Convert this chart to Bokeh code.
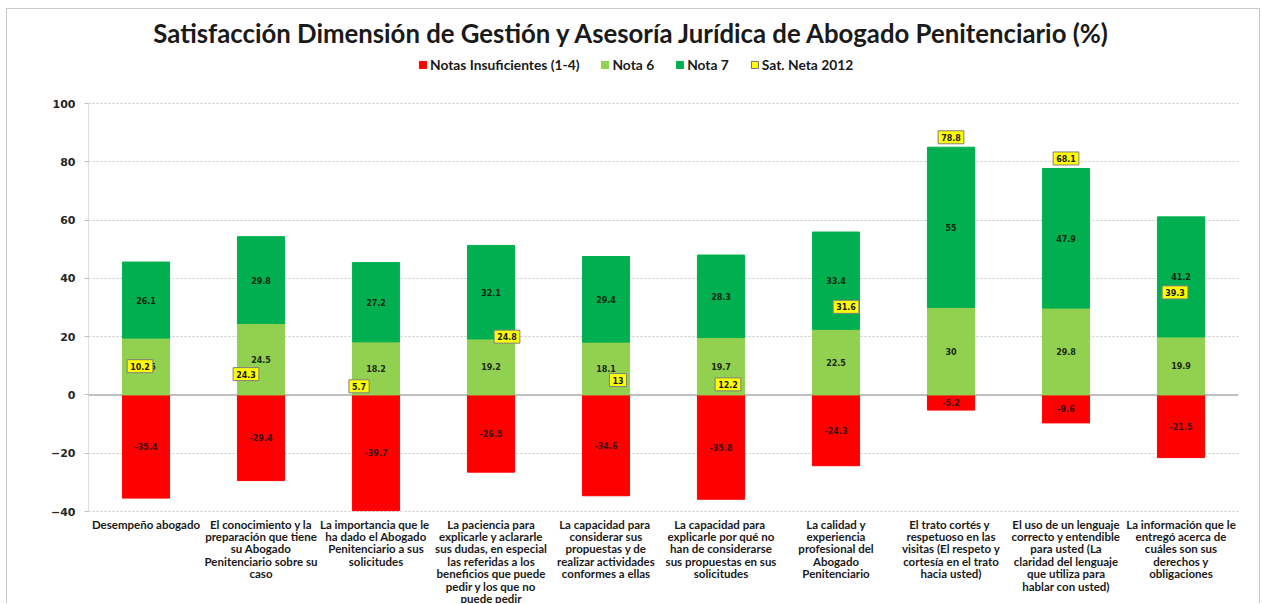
from bokeh.plotting import figure
from bokeh.models import (ColumnDataSource, FactorRange, Range1d, Legend, LegendItem,
                          Label, Span, FixedTicker)
from bokeh.core.properties import value
from bokeh.embed import file_html
from bokeh.resources import INLINE

# ---------------- data ----------------
categories = [
    "Desempeño abogado",
    "El conocimiento y la\npreparación que tiene\nsu Abogado\nPenitenciario sobre su\ncaso",
    "La importancia  que le\nha dado el Abogado\nPenitenciario a sus\nsolicitudes",
    "La paciencia para\nexplicarle y aclararle\nsus dudas, en especial\nlas referidas a los\nbeneficios que puede\npedir y los que no\npuede pedir",
    "La capacidad  para\nconsiderar sus\npropuestas y de\nrealizar actividades\nconformes a ellas",
    "La capacidad  para\nexplicarle por qué no\nhan de considerarse\nsus propuestas en sus\nsolicitudes",
    "La calidad y\nexperiencia\nprofesional del\nAbogado\nPenitenciario",
    "El trato  cortés y\nrespetuoso en las\nvisitas (El respeto y\ncortesía en el trato\nhacia usted)",
    "El uso de un lenguaje\ncorrecto y entendible\npara usted (La\nclaridad del lenguaje\nque utiliza para\nhablar con usted)",
    "La información que le\nentregó acerca de\ncuáles son sus\nderechos y\nobligaciones",
]
notas_insuficientes = [-35.4, -29.4, -39.7, -26.5, -34.6, -35.8, -24.3, -5.2, -9.6, -21.5]
nota6 = [19.5, 24.5, 18.2, 19.2, 18.1, 19.7, 22.5, 30, 29.8, 19.9]
nota7 = [26.1, 29.8, 27.2, 32.1, 29.4, 28.3, 33.4, 55, 47.9, 41.2]
sat_neta_2012 = [10.2, 24.3, 5.7, 24.8, 13, 12.2, 31.6, 78.8, 68.1, 39.3]
y_ticks = [-40, -20, 0, 20, 40, 60, 80, 100]

TITLE = "Satisfacción Dimensión de Gestión y Asesoría Jurídica de Abogado Penitenciario (%)"

# label placement offsets (screen px) for the Sat. Neta boxes
sat_dx = [-6, -15, -17, 16, 12, 7, 10, 0, 0, -6]
sat_dy = [1, 50, 8, 14, 23, 25, 4, -28, -38, 12]

RED = "#FF0000"
LGREEN = "#92D050"
GREEN = "#00B050"
YELLOW = "#FFFF00"
GRID = "#C8C8C8"

Y_MIN, Y_MAX = min(y_ticks), max(y_ticks)

# ---------------- layout (pixels) ----------------
FIG_W, FIG_H = 1262, 603
LEFT = 88            # frame left edge
FRAME_R = 1238       # frame right edge
RIGHT = FIG_W - FRAME_R
TOP_PX = 103         # pixel row of the top tick inside the frame
AXIS_PX = 408        # pixel height of the tick span
PPU = AXIS_PX / (Y_MAX - Y_MIN)
y_end = Y_MAX + TOP_PX / PPU
y_start = Y_MAX - (FIG_H - TOP_PX) / PPU
CAT_PX = (FRAME_R - LEFT) / len(categories)


def y_at_px(py):
    return y_end - py / PPU


def x_at_px(px):
    return (px - LEFT) / CAT_PX


def fmt(v):
    return f"{v:g}"


src = ColumnDataSource(dict(
    cat=categories,
    ins=notas_insuficientes,
    zero=[0] * len(categories),
    n6=nota6,
    top7=[a + b for a, b in zip(nota6, nota7)],
    mid_ins=[v / 2 for v in notas_insuficientes],
    mid6=[v / 2 for v in nota6],
    mid7=[a + b / 2 for a, b in zip(nota6, nota7)],
    lab_ins=[fmt(v) for v in notas_insuficientes],
    lab6=[fmt(v) for v in nota6],
    lab7=[fmt(v) for v in nota7],
    sat=sat_neta_2012,
    lab_sat=[fmt(v) for v in sat_neta_2012],
    sat_dx=sat_dx,
    sat_dy=sat_dy,
    base=[Y_MIN] * len(categories),
))

p = figure(
    x_range=FactorRange(*categories, range_padding=0),
    y_range=Range1d(y_start, y_end),
    width=FIG_W, height=FIG_H,
    min_border_left=LEFT, min_border_right=RIGHT, min_border_top=0, min_border_bottom=0,
    output_backend="svg", toolbar_location=None,
)
p.outline_line_color = None
p.background_fill_alpha = 0
p.border_fill_alpha = 0
# thin grey chart-area border (as in the exported Excel picture)
line = f"linear-gradient({GRID},{GRID})"
p.styles = {
    "background": (f"{line} 6px 8px / 1px 700px no-repeat, "
                   f"{line} 6px 8px / 1254px 1px no-repeat, "
                   f"{line} 1259px 8px / 1px 700px no-repeat, white"),
}

W = 0.41
p.add_layout(Span(location=0, dimension="width", line_color="#C0C0C0", line_width=2,
                  level="underlay"))
r_ins = p.vbar(x="cat", top="zero", bottom="ins", width=W, source=src,
               fill_color=RED, line_color=RED)
r_n6 = p.vbar(x="cat", top="n6", bottom="zero", width=W, source=src,
              fill_color=LGREEN, line_color=LGREEN)
r_n7 = p.vbar(x="cat", top="top7", bottom="n6", width=W, source=src,
              fill_color=GREEN, line_color=GREEN)
# legend proxy for the Sat. Neta series (zero-size boxes at the values)
r_sat = p.vbar(x="cat", top="sat", bottom="sat", width=0, source=src,
               fill_color=YELLOW, line_color="#6F6F6F")

# y-axis line only over the tick span
p.segment(x0=[0], y0=[Y_MIN], x1=[0], y1=[Y_MAX], line_color="#BFBFBF", line_width=1)

lab_kw = dict(source=src, text_align="center", text_baseline="middle",
              text_font=value("DejaVu Sans"), text_font_style="bold",
              text_font_size="8px")
p.text(x="cat", y="mid_ins", text="lab_ins", text_color="#3A1010", **lab_kw)
p.text(x="cat", y="mid6", text="lab6", text_color="#1A2A10", **lab_kw)
p.text(x="cat", y="mid7", text="lab7", text_color="#0A2A10", **lab_kw)
p.text(x="cat", y="sat", text="lab_sat", x_offset="sat_dx", y_offset="sat_dy",
       text_color="#1A1A1A", background_fill_color=YELLOW,
       border_line_color="#7F7F7F", border_line_width=1, padding=3, **lab_kw)

# category labels under the tick span
p.text(x="cat", y="base", text="cat", source=src, y_offset=6,
       text_align="center", text_baseline="top",
       text_font=value("Lato"), text_font_style="bold", text_font_size="11.5px",
       text_line_height=0.96, text_color="#1A1A1A")

# title
p.add_layout(Label(x=x_at_px(632), y=y_at_px(32), text=TITLE,
                   text_align="center", text_baseline="middle",
                   text_font="Lato", text_font_style="bold", text_font_size="25.75px",
                   text_color="#1A1A1A"))

# axes
p.xaxis.visible = False
p.yaxis.ticker = FixedTicker(ticks=y_ticks)
p.yaxis.axis_line_color = None
p.yaxis.major_tick_line_color = "#BFBFBF"
p.yaxis.major_tick_out = 4
p.yaxis.major_tick_in = 0
p.yaxis.minor_tick_line_color = None
p.yaxis.major_label_standoff = 9
p.yaxis.major_label_text_font = "DejaVu Sans"
p.yaxis.major_label_text_font_style = "bold"
p.yaxis.major_label_text_font_size = "11px"
p.yaxis.major_label_text_color = "#262626"

p.xgrid.grid_line_color = None
p.ygrid.grid_line_color = GRID
p.ygrid.grid_line_dash = "2 2"

legend = Legend(items=[
    LegendItem(label="Notas Insuficientes (1-4)", renderers=[r_ins]),
    LegendItem(label="Nota 6", renderers=[r_n6]),
    LegendItem(label="Nota 7", renderers=[r_n7]),
    LegendItem(label="Sat. Neta 2012", renderers=[r_sat]),
], orientation="horizontal", location=(418 - LEFT, FIG_H - 73))
legend.label_text_font = "Lato"
legend.label_text_font_style = "bold"
legend.label_text_font_size = "13.8px"
legend.label_text_color = "#1A1A1A"
legend.glyph_width = 9
legend.glyph_height = 9
legend.label_standoff = 3
legend.spacing = 21
legend.border_line_color = None
legend.background_fill_alpha = 0
legend.padding = 0
legend.margin = 0
p.add_layout(legend)

open("out.html", "w").write(file_html(p, INLINE))
